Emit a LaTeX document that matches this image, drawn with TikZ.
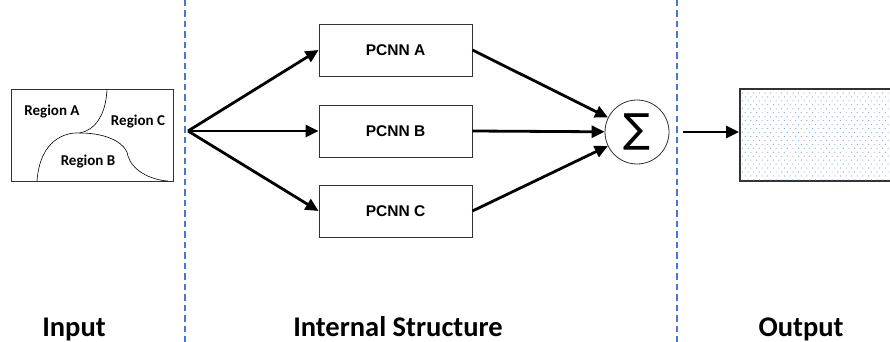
\documentclass[tikz,border=0pt]{standalone}
\usepackage{fontspec}
\setmainfont{Carlito}
\newfontfamily\arialfont{Liberation Sans}
\newfontfamily\symfont{DejaVu Sans}
\usetikzlibrary{arrows.meta}
\definecolor{sepblue}{RGB}{72,118,210}
\definecolor{dotblue}{RGB}{125,160,228}
\definecolor{boxgray}{RGB}{50,50,50}
\tikzset{
  pcnn/.style={draw=boxgray, line width=0.9pt, minimum width=153pt, minimum height=52pt,
    inner sep=0pt, font=\arialfont\bfseries\fontsize{15.5}{16}\selectfont},
  flow/.style={line width=2.8pt, -{Triangle[length=13pt,width=12pt]}},
  separator/.style={sepblue, line width=1.5pt, dash pattern=on 6.5pt off 4pt},
  region/.style={font=\bfseries\fontsize{15}{16}\selectfont},
  caption/.style={font=\bfseries\fontsize{28.5}{30}\selectfont, anchor=base},
}
\begin{document}
\begin{tikzpicture}[x=1pt,y=-1pt]
\clip (0,0) rectangle (890,342);
\fill[white] (0,0) rectangle (890,342);

% section separators
\draw[separator] (185,0) -- (185,342);
\draw[separator] (677,0) -- (677,342);

% input image split into regions
\node[draw=boxgray, line width=0.9pt, minimum width=162pt, minimum height=92pt, inner sep=0pt]
  (input) at (92,135) {};
\draw[line width=0.6pt] (107,89) .. controls (106,115) and (95,130) .. (80,133);
\draw[line width=0.6pt] (37,181) .. controls (40,140) and (65,132) .. (80,133)
  .. controls (110,133) and (127,145) .. (128,156)
  .. controls (132,170) and (150,180) .. (168,181);
\node[region] (ra) at (52,112) {Region A};
\node[region] (rc) at (138,122) {Region C};
\node[region] (rb) at (88,162) {Region B};

% parallel PCNN branches
\coordinate (split) at (188,131);
\node[pcnn] (pa) at (395.5,50) {PCNN A};
\node[pcnn] (pb) at (395.5,131) {PCNN B};
\node[pcnn] (pc) at (395.5,211) {PCNN C};

\node[draw=boxgray, line width=0.8pt, circle, minimum size=64pt, inner sep=0pt]
  (sum) at (637,132) {\symfont\fontsize{40}{40}\selectfont ∑};

\draw[flow] (split) -- (pa.west);
\draw[flow] (split) -- (pb.west);
\draw[flow] (split) -- (pc.west);
\draw[flow] (pa.east) -- (sum);
\draw[flow] (pb.east) -- (sum);
\draw[flow] (pc.east) -- (sum);

% output map
\node[draw=boxgray, line width=1.5pt, minimum width=156pt, minimum height=92pt, inner sep=0pt,
  anchor=west] (out) at (739,135) {};
\foreach \r in {0,...,22}{
  \pgfmathsetmacro{\yy}{93+\r*3.95}
  \pgfmathsetmacro{\off}{mod(\r,2)*2.8}
  \foreach \c in {0,...,26}{
    \fill[dotblue] (742.5+\off+\c*5.6,\yy) circle (0.6pt);
  }
}
\coordinate (merge) at (683,132);
\draw[flow] (merge) -- (out.west |- merge);

% section captions
\node[caption] (capin) at (74,336) {Input};
\node[caption] (capmid) at (398,336) {Internal Structure};
\node[caption] (capout) at (801,336) {Output};
\end{tikzpicture}
\end{document}
